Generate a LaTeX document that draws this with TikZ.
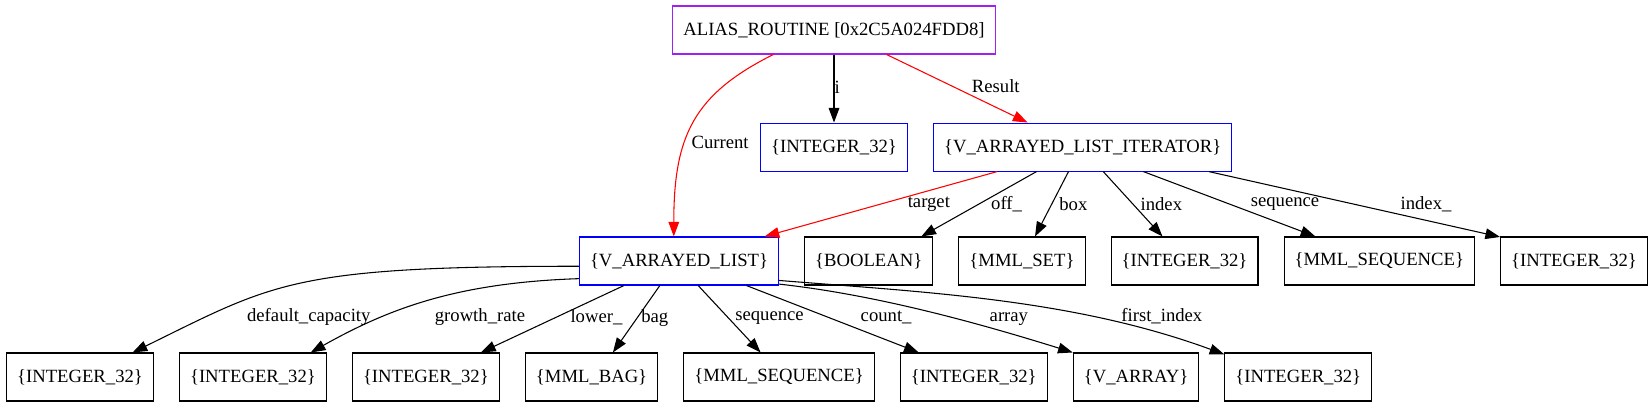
\documentclass[tikz,border=0pt]{standalone}
\usepackage{fontspec}
\setmainfont{Liberation Serif}
\usepackage{tikz}
\usetikzlibrary{arrows.meta}
\usetikzlibrary{positioning}
\definecolor{gvpurple}{RGB}{160,32,240}
\tikzset{
    typenode/.style={
        draw, rectangle,
        font=\fontsize{14}{16}\selectfont,
        inner xsep=7.92pt, inner ysep=0pt,
        minimum height=36pt, line width=0.8pt
    },
    rootnode/.style={typenode, draw=gvpurple},
    refnode/.style={typenode, draw=blue},
    link/.style={line width=0.8pt, -{Triangle[length=11pt,width=8pt]}},
    hotlink/.style={link, red},
    lbl/.style={
        font=\fontsize{14}{16}\selectfont,
        text=black, inner sep=0pt, anchor=west
    }
}

\begin{document}
\begin{tikzpicture}[x=0.75pt, y=-0.75pt, node distance=51pt and 18.75pt]
\useasboundingbox (0,0) rectangle (1648,407);
% 节点
\node[rootnode] (routine) at (834,30) {ALIAS\_ROUTINE [0x2C5A024FDD8]};
\node[refnode] (int1) [below=of routine] {\{INTEGER\_32\}};
\node[refnode] (iter) [right=of int1] {\{V\_ARRAYED\_LIST\_ITERATOR\}};

\node[refnode] (list) at (679,261) {\{V\_ARRAYED\_LIST\}};
\node[typenode] (bool) [right=of list] {\{BOOLEAN\}};
\node[typenode] (set) [right=of bool] {\{MML\_SET\}};
\node[typenode] (int2) [right=of set] {\{INTEGER\_32\}};
\node[typenode] (seq1) [right=of int2] {\{MML\_SEQUENCE\}};
\node[typenode] (int3) [right=of seq1] {\{INTEGER\_32\}};

\node[typenode] (int4) at (80,377) {\{INTEGER\_32\}};
\node[typenode] (int5) [right=of int4] {\{INTEGER\_32\}};
\node[typenode] (int6) [right=of int5] {\{INTEGER\_32\}};
\node[typenode] (bag) [right=of int6] {\{MML\_BAG\}};
\node[typenode] (seq2) [right=of bag] {\{MML\_SEQUENCE\}};
\node[typenode] (int7) [right=of seq2] {\{INTEGER\_32\}};
\node[typenode] (arr) [right=of int7] {\{V\_ARRAY\}};
\node[typenode] (int8) [right=of arr] {\{INTEGER\_32\}};

% 边 + 标签
\draw[hotlink] (routine.202) .. controls +(-80,40) and +(0,-100) .. (list.102)
    node[lbl, pos=.61, xshift=4.5pt] {Current};
\draw[link] (routine) -- (int1) node[lbl, pos=.48] {i};
\draw[hotlink] (routine.-25) -- (iter.156) node[lbl, pos=.47, xshift=13.9pt] {Result};

\draw[hotlink] (iter.196) -- (list.16) node[lbl, pos=.5, xshift=19.8pt] {target};
\draw[link] (iter.208) -- (bool.25) node[lbl, pos=.5, xshift=8.8pt] {off\_};
\draw[link] (iter.240) -- (set.62) node[lbl, pos=.5, xshift=5.3pt] {box};
\draw[link] (iter.-50) -- (int2.132) node[lbl, pos=.5, xshift=5.4pt] {index};
\draw[link] (iter.-22) -- (seq1.159) node[lbl, pos=.5, xshift=15.7pt] {sequence};
\draw[link] (iter.-11) -- (int3.162) node[lbl, pos=.5, xshift=34.2pt] {index\_};

\draw[link] (list.183) .. controls +(-288,0) and +(141,-69) .. (int4.25)
    node[lbl, pos=.8, xshift=30.8pt] {default\_capacity};
\draw[link] (list.190) .. controls +(-120,4) and +(80,-45) .. (int5.23)
    node[lbl, pos=.7, xshift=39.8pt] {growth\_rate};
\draw[link] (list.204) -- (int6.24) node[lbl, pos=.48, xshift=11pt] {lower\_};
\draw[link] (list.232) -- (bag.49) node[lbl, pos=.48, xshift=2.6pt] {bag};
\draw[link] (list.-52) -- (seq2.127) node[lbl, pos=.48, xshift=5pt] {sequence};
\draw[link] (list.-20) -- (int7.156) node[lbl, pos=.48, xshift=23.3pt] {count\_};
\draw[link] (list.-13) .. controls +(100,11) and +(-90,-28) .. (arr.north west)
    node[lbl, pos=.6, xshift=22.4pt] {array};
\draw[link] (list.-11) .. controls +(150,12) and +(-150,-55) .. (int8.163)
    node[lbl, pos=.7, xshift=22.9pt] {first\_index};
\end{tikzpicture}
\end{document}
